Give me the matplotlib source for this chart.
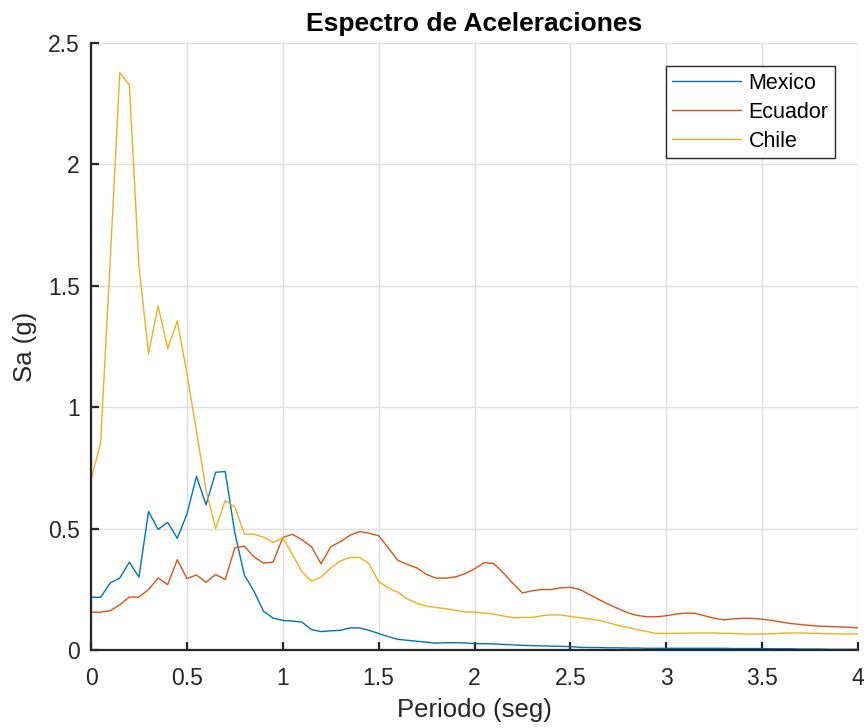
import matplotlib
matplotlib.use("Agg")
import matplotlib.pyplot as plt

plt.rcParams['font.family'] = ['Liberation Sans', 'DejaVu Sans']

periodo = [0.00, 0.05, 0.10, 0.15, 0.20, 0.25, 0.30, 0.35, 0.40, 0.45,
           0.50, 0.55, 0.60, 0.65, 0.70, 0.75, 0.80, 0.85, 0.90, 0.95,
           1.00, 1.05, 1.10, 1.15, 1.20, 1.25, 1.30, 1.35, 1.40, 1.45,
           1.50, 1.55, 1.60, 1.65, 1.70, 1.75, 1.80, 1.85, 1.90, 1.95,
           2.00, 2.05, 2.10, 2.15, 2.20, 2.25, 2.30, 2.35, 2.40, 2.45,
           2.50, 2.55, 2.60, 2.65, 2.70, 2.75, 2.80, 2.85, 2.90, 2.95,
           3.00, 3.05, 3.10, 3.15, 3.20, 3.25, 3.30, 3.35, 3.40, 3.45,
           3.50, 3.55, 3.60, 3.65, 3.70, 3.75, 3.80, 3.85, 3.90, 3.95,
           4.00]

mexico = [0.217, 0.217, 0.276, 0.296, 0.362, 0.300, 0.570, 0.497, 0.526, 0.460,
          0.559, 0.715, 0.598, 0.732, 0.735, 0.483, 0.308, 0.242, 0.159, 0.131,
          0.122, 0.119, 0.115, 0.084, 0.076, 0.079, 0.081, 0.091, 0.091, 0.081,
          0.068, 0.055, 0.044, 0.040, 0.036, 0.032, 0.028, 0.030, 0.030, 0.029,
          0.026, 0.026, 0.025, 0.023, 0.021, 0.019, 0.018, 0.017, 0.016, 0.015,
          0.014, 0.011, 0.010, 0.010, 0.009, 0.009, 0.008, 0.008, 0.007, 0.007,
          0.007, 0.007, 0.007, 0.007, 0.007, 0.007, 0.007, 0.006, 0.006, 0.006,
          0.006, 0.005, 0.005, 0.005, 0.004, 0.004, 0.004, 0.003, 0.003, 0.003,
          0.003]

ecuador = [0.155, 0.156, 0.162, 0.186, 0.218, 0.218, 0.249, 0.297, 0.269, 0.372,
           0.294, 0.309, 0.279, 0.311, 0.290, 0.421, 0.428, 0.383, 0.358, 0.362,
           0.463, 0.477, 0.454, 0.425, 0.355, 0.425, 0.446, 0.472, 0.488, 0.481,
           0.471, 0.421, 0.369, 0.352, 0.338, 0.311, 0.296, 0.296, 0.301, 0.314,
           0.334, 0.360, 0.356, 0.318, 0.275, 0.235, 0.244, 0.249, 0.249, 0.256,
           0.258, 0.249, 0.228, 0.207, 0.188, 0.170, 0.153, 0.142, 0.137, 0.137,
           0.141, 0.148, 0.152, 0.151, 0.141, 0.131, 0.124, 0.128, 0.131, 0.130,
           0.127, 0.122, 0.115, 0.109, 0.105, 0.101, 0.098, 0.097, 0.095, 0.094,
           0.091]

chile = [0.700, 0.854, 1.600, 2.378, 2.327, 1.580, 1.222, 1.418, 1.241, 1.355,
         1.140, 0.900, 0.660, 0.500, 0.615, 0.590, 0.477, 0.477, 0.465, 0.443,
         0.463, 0.394, 0.322, 0.283, 0.300, 0.338, 0.366, 0.381, 0.381, 0.355,
         0.282, 0.256, 0.238, 0.210, 0.192, 0.181, 0.175, 0.170, 0.163, 0.157,
         0.156, 0.152, 0.148, 0.140, 0.133, 0.134, 0.134, 0.141, 0.145, 0.144,
         0.138, 0.133, 0.128, 0.122, 0.112, 0.101, 0.093, 0.083, 0.076, 0.068,
         0.068, 0.069, 0.069, 0.070, 0.070, 0.070, 0.069, 0.068, 0.066, 0.066,
         0.066, 0.067, 0.069, 0.070, 0.070, 0.069, 0.068, 0.067, 0.066, 0.066,
         0.066]

series_names = ['Mexico', 'Ecuador', 'Chile']
series_colors = ['#0072BD', '#D95319', '#EDB120']
xticks = [0, 0.5, 1, 1.5, 2, 2.5, 3, 3.5, 4]
xticklabels = ['0', '0.5', '1', '1.5', '2', '2.5', '3', '3.5', '4']
yticks = [0, 0.5, 1, 1.5, 2, 2.5]
yticklabels = ['0', '0.5', '1', '1.5', '2', '2.5']

fig = plt.figure(figsize=(8.66, 7.28), dpi=100)
ax = fig.add_axes([91/866, 1 - 650/728, (858 - 91)/866, (650 - 43)/728])

for name, vals, col in zip(series_names, [mexico, ecuador, chile], series_colors):
    ax.plot(periodo, vals, color=col, linewidth=1.0, label=name)

ax.set_xlim(0, 4)
ax.set_ylim(0, 2.5)
ax.set_xticks(xticks)
ax.set_xticklabels(xticklabels)
ax.set_yticks(yticks)
ax.set_yticklabels(yticklabels)

ax.grid(True, color='#dfdfdf', linewidth=1.0)
ax.set_axisbelow(True)
for s in ['top', 'right']:
    ax.spines[s].set_visible(False)
for s in ['left', 'bottom']:
    ax.spines[s].set_color('#262626')
    ax.spines[s].set_linewidth(1.6)

ax.tick_params(axis='both', direction='in', length=6, width=1.6, color='#262626',
               labelcolor='#262626', labelsize=16.5)
ax.tick_params(axis='x', pad=12)
ax.tick_params(axis='y', pad=8)

ax.set_xlabel('Periodo (seg)', fontsize=18.5, color='#262626', labelpad=6)
ax.set_ylabel('Sa (g)', fontsize=18.5, color='#262626', labelpad=8)
ax.set_title('Espectro de Aceleraciones', fontsize=19, fontweight='bold', color='black', pad=9)

leg = ax.legend(loc='upper right', bbox_to_anchor=(0.970, 0.962), borderaxespad=0,
                fontsize=15.5, handlelength=3.2, handletextpad=0.35, labelspacing=0.38,
                borderpad=0.3, fancybox=False, framealpha=1, edgecolor='#262626')
leg.get_frame().set_linewidth(1.0)

fig.savefig('out.png', dpi=100)
